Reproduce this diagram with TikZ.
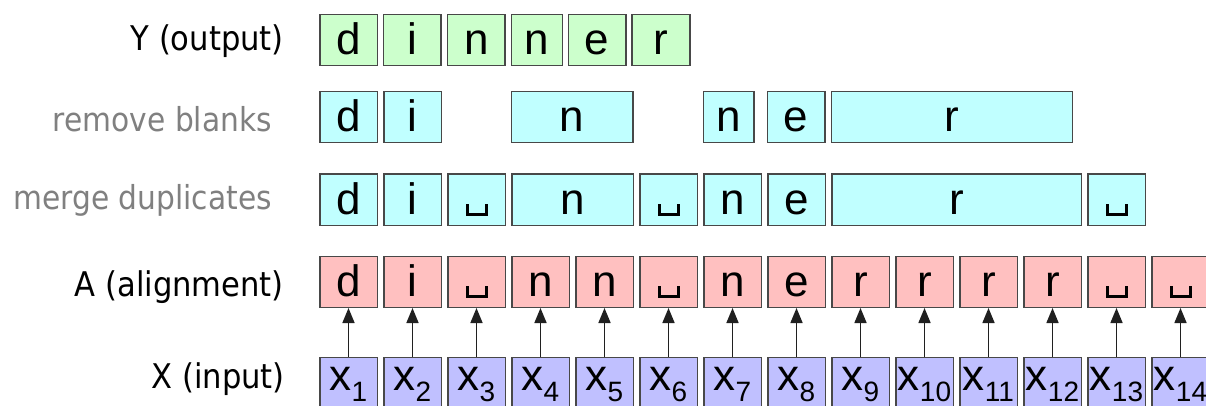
\documentclass[tikz,border=0pt]{standalone}
\usepackage{fontspec}
\setmainfont{Liberation Sans}
\newfontfamily\lblfont{DejaVu Sans Condensed}
\usetikzlibrary{arrows.meta}
\definecolor{ygreen}{HTML}{CCFFCC}
\definecolor{mcyan}{HTML}{C0FFFF}
\definecolor{apink}{HTML}{FFC0C0}
\definecolor{xblue}{HTML}{C0C0FF}
\definecolor{edgegrey}{HTML}{484848}
\definecolor{arrgrey}{HTML}{202020}
\definecolor{lblgrey}{HTML}{808080}
\newcommand\xsub[1]{\raisebox{-11pt}{\fontsize{28}{28}\selectfont #1}}
\newcommand\blankmark[1]{\draw[blk] ([shift={(-9.5,-10)}]#1.base) -- ++(0,10) -- ++(19,0) -- ++(0,-10);}
\begin{document}
\begin{tikzpicture}[x=1pt,y=-1pt,
  cell/.style={draw=edgegrey, line width=1.5pt, anchor=north west, minimum height=51pt,
    inner xsep=0pt, inner ysep=0pt, text height=40pt, text depth=11pt,
    font=\fontsize{44}{44}\selectfont},
  ycell/.style={cell, fill=ygreen},
  mcell/.style={cell, fill=mcyan},
  acell/.style={cell, fill=apink, minimum width=57.5pt},
  xcell/.style={cell, fill=xblue, minimum width=57.5pt, text height=33pt, text depth=18pt},
  lbl/.style={anchor=base east, inner sep=0pt, font=\lblfont\fontsize{34}{34}\selectfont},
  glbl/.style={lbl, text=lblgrey, font=\lblfont\fontsize{33}{33}\selectfont},
  arr/.style={draw=arrgrey, line width=1.6pt, -{Triangle[length=15pt,width=12pt]}},
  blk/.style={line width=3pt, draw=black}]
\useasboundingbox (0,0) rectangle (1206,406);
\clip (0,0) rectangle (1206,406);
% labels
\node[lbl]  (ly) at (284,51)    {Y (output)};
\node[glbl] (lr) at (272,131.5) {remove blanks};
\node[glbl] (lm) at (272,209.5) {merge duplicates};
\node[lbl]  (la) at (284,296)   {A (alignment)};
\node[lbl]  (lx) at (285,388)   {X (input)};
% Y row
\foreach \xx/\w/\c [count=\k] in {319/57.7/d, 382.7/57.3/i, 446.7/57.6/n, 510.7/51/n, 567.7/57.3/e, 631/58/r}
  \node[ycell, minimum width=\w pt] (y\k) at (\xx,14) {\c};
% remove blanks row
\foreach \xx/\w/\c [count=\k] in {319/57.5/d, 383/57.5/i, 510.7/121.5/n, 702.7/50.6/n, 766.7/57.3/e, 830.7/241/r}
  \node[mcell, minimum width=\w pt] (r\k) at (\xx,91) {\c};
% merge duplicates row
\foreach \xx/\w/\c [count=\k] in {319/57.5/d, 383/57.5/i, 447/57.5/{}, 511/121.5/n, 639/57.5/{}, 703/57.5/n, 767/57.5/e, 831/249.5/r, 1087/57.5/{}}
  \node[mcell, minimum width=\w pt] (m\k) at (\xx,173.5) {\c};
\blankmark{m3}
\blankmark{m5}
\blankmark{m9}
% alignment row
\foreach \c [count=\k from 0] in {d,i,{},n,n,{},n,e,r,r,r,r,{},{}}
  \node[acell] (a\k) at ({319+64*\k},255.5) {\c};
\foreach \k in {2,5,12,13} {\blankmark{a\k}}
% input row and arrows
\foreach \k [evaluate=\k as \n using int(\k+1)] in {0,...,13} {
  \node[xcell] (x\k) at ({319+64*\k},356.5) {x\xsub{\n}};
  \draw[arr] (x\k.north) -- (a\k.south);
}
\end{tikzpicture}
\end{document}
